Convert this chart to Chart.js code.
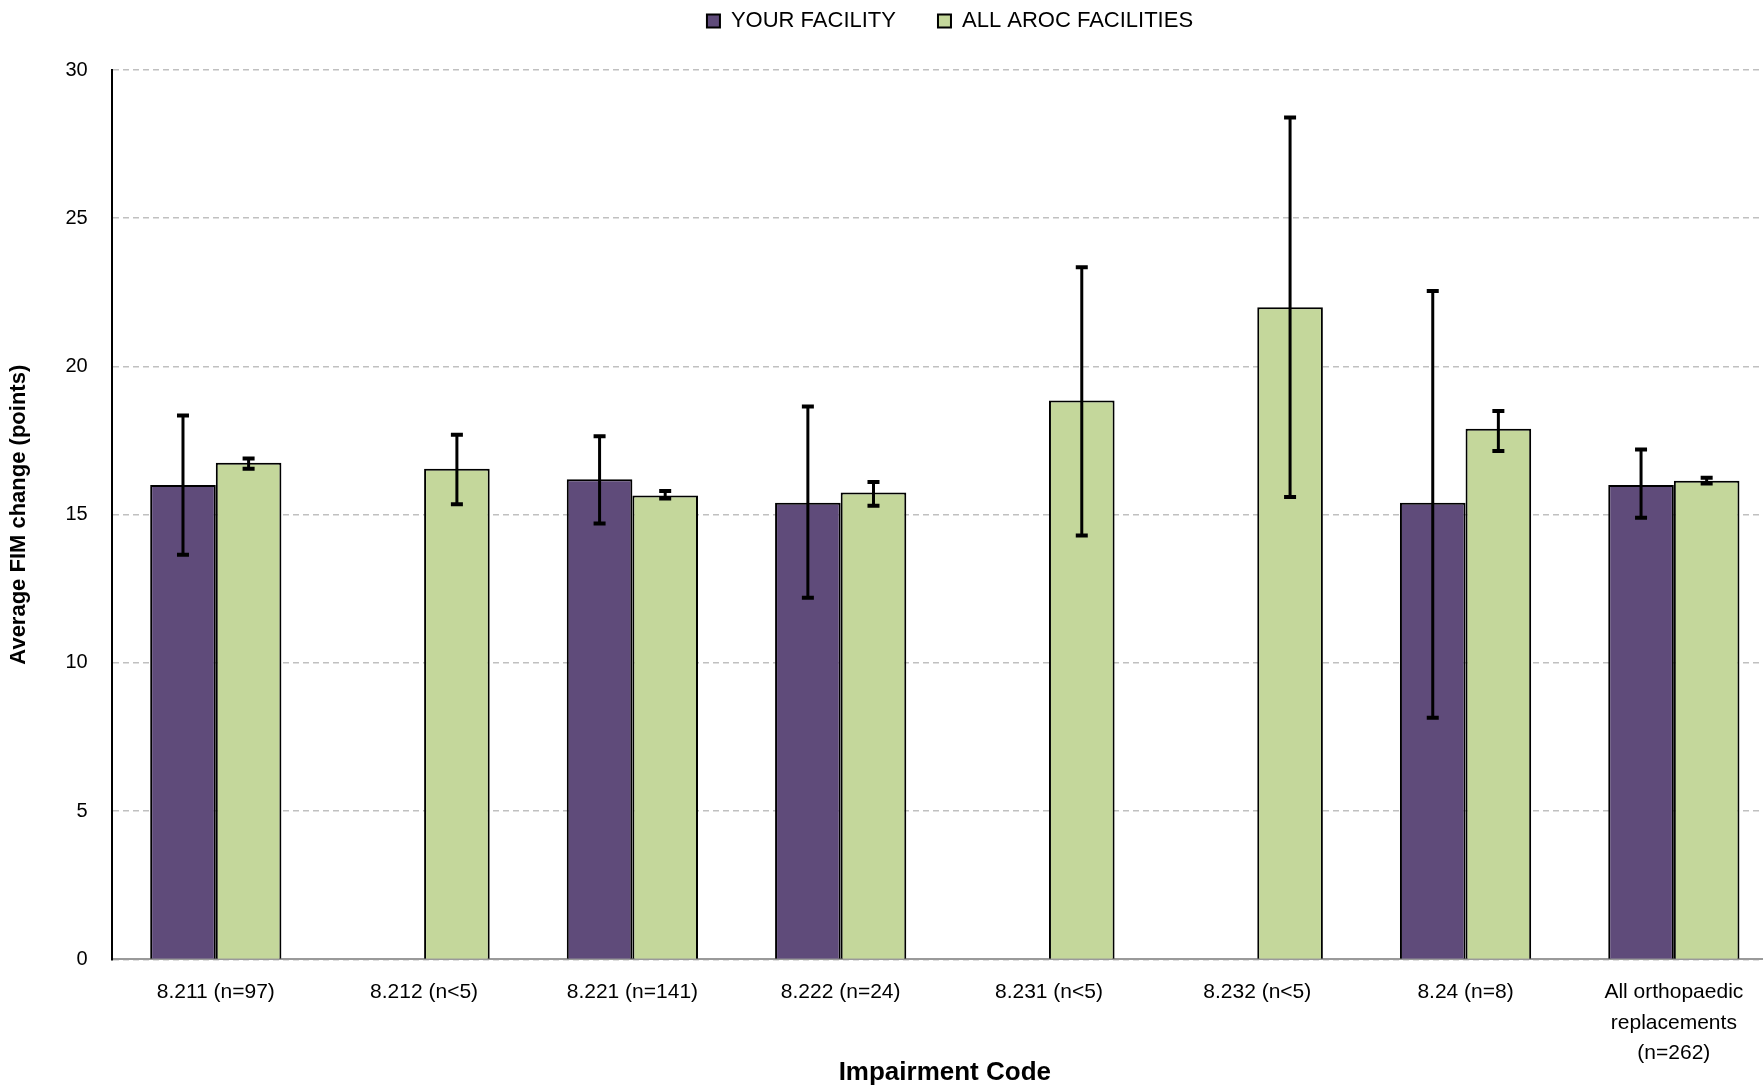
<!DOCTYPE html>
<html>
<head>
<meta charset="utf-8">
<script src="https://cdn.jsdelivr.net/npm/chart.js@4"></script>
<style>
  html, body { margin: 0; padding: 0; background: #ffffff; overflow: hidden; }
  #wrap { width: 1763px; height: 1088px; overflow: hidden; }
</style>
</head>
<body>
<div id="wrap"><canvas id="myChart" width="1778" height="1088"></canvas></div>
<script>
const categories = [
  "8.211 (n=97)",
  "8.212 (n<5)",
  "8.221 (n=141)",
  "8.222 (n=24)",
  "8.231 (n<5)",
  "8.232 (n<5)",
  "8.24 (n=8)",
  ["All orthopaedic", "replacements", "(n=262)"],
];

const facilityValues = [16.0, null, 16.2, 15.4, null, null, 15.4, 16.0];
const facilityLow = [13.65, null, 14.7, 12.2, null, null, 8.15, 14.9];
const facilityHigh = [18.35, null, 17.65, 18.65, null, null, 22.55, 17.2];

const arocValues = [16.75, 16.55, 15.65, 15.75, 18.85, 22.0, 17.9, 16.15];
const arocLow = [16.55, 15.35, 15.55, 15.3, 14.3, 15.6, 17.15, 16.05];
const arocHigh = [16.9, 17.7, 15.8, 16.1, 23.35, 28.4, 18.5, 16.25];

const yTicks = [0, 5, 10, 15, 20, 25, 30];

const sans = "'Liberation Sans', Arial, sans-serif";

// draws the error bars on top of the bars
const errorBars = {
  id: "errorBars",
  afterDatasetsDraw(chart) {
    const ctx = chart.ctx;
    const yScale = chart.scales.y;
    chart.data.datasets.forEach((ds, i) => {
      const meta = chart.getDatasetMeta(i);
      meta.data.forEach((bar, j) => {
        if (ds.data[j] == null || ds.errLow[j] == null) return;
        const x = bar.x;
        const yLo = yScale.getPixelForValue(ds.errLow[j]);
        const yHi = yScale.getPixelForValue(ds.errHigh[j]);
        ctx.save();
        ctx.strokeStyle = "#000000";
        ctx.lineWidth = 3;
        ctx.beginPath();
        ctx.moveTo(x, yLo);
        ctx.lineTo(x, yHi);
        ctx.stroke();
        ctx.lineWidth = 4;
        ctx.beginPath();
        ctx.moveTo(x - 6, yLo);
        ctx.lineTo(x + 6, yLo);
        ctx.moveTo(x - 6, yHi);
        ctx.lineTo(x + 6, yHi);
        ctx.stroke();
        ctx.restore();
      });
    });
  },
};

// extra room under the legend, and legend moved over the plot centre
const legendSpacing = {
  id: "legendSpacing",
  beforeInit(chart) {
    const fit = chart.legend.fit;
    chart.legend.fit = function () {
      fit.call(this);
      this.height += 28;
    };
  },
  afterLayout(chart) {
    chart.legend.left += 58;
    chart.legend.right += 58;
  },
};

const ctx = document.getElementById("myChart").getContext("2d");
const myChart = new Chart(ctx, {
  type: "bar",
  data: {
    labels: categories,
    datasets: [
      {
        label: "YOUR FACILITY",
        data: facilityValues,
        errLow: facilityLow,
        errHigh: facilityHigh,
        backgroundColor: "#5f4b7a",
        borderColor: "#000000",
        borderWidth: 2,
        borderSkipped: "bottom",
      },
      {
        label: "ALL AROC FACILITIES",
        data: arocValues,
        errLow: arocLow,
        errHigh: arocHigh,
        backgroundColor: "#c4d79b",
        borderColor: "#000000",
        borderWidth: 2,
        borderSkipped: "bottom",
      },
    ],
  },
  options: {
    responsive: false,
    animation: false,
    layout: { padding: { left: 6, right: 0, top: -32, bottom: 0 } },
    datasets: {
      bar: { barPercentage: 1.0, categoryPercentage: 0.63 },
    },
    scales: {
      x: {
        grid: { display: false, drawTicks: false },
        border: { color: "#9a9a9a", width: 2 },
        ticks: {
          color: "#000000",
          font: { family: sans, size: 21, lineHeight: 1.45 },
          padding: 18,
          maxRotation: 0,
          autoSkip: false,
        },
        title: {
          display: true,
          text: "Impairment Code",
          color: "#000000",
          font: { family: sans, size: 26, weight: "bold" },
          padding: { top: -30, bottom: 0 },
        },
      },
      y: {
        min: 0,
        max: 30,
        afterBuildTicks: (axis) => {
          axis.ticks = yTicks.map((v) => ({ value: v }));
        },
        grid: {
          color: "#c0c0c0",
          lineWidth: 1.5,
          drawTicks: false,
        },
        border: { color: "#000000", width: 2, dash: [6, 4] },
        ticks: {
          color: "#000000",
          font: { family: sans, size: 20 },
          padding: 24,
        },
        title: {
          display: true,
          text: "Average FIM change (points)",
          color: "#000000",
          font: { family: sans, size: 22, weight: "bold" },
          padding: { top: 0, bottom: 9 },
        },
      },
    },
    plugins: {
      legend: {
        position: "top",
        labels: {
          color: "#000000",
          font: { family: sans, size: 22 },
          boxWidth: 13,
          boxHeight: 13,
          padding: 42,
        },
      },
      tooltip: { enabled: false },
    },
  },
  plugins: [errorBars, legendSpacing],
});
</script>
</body>
</html>
